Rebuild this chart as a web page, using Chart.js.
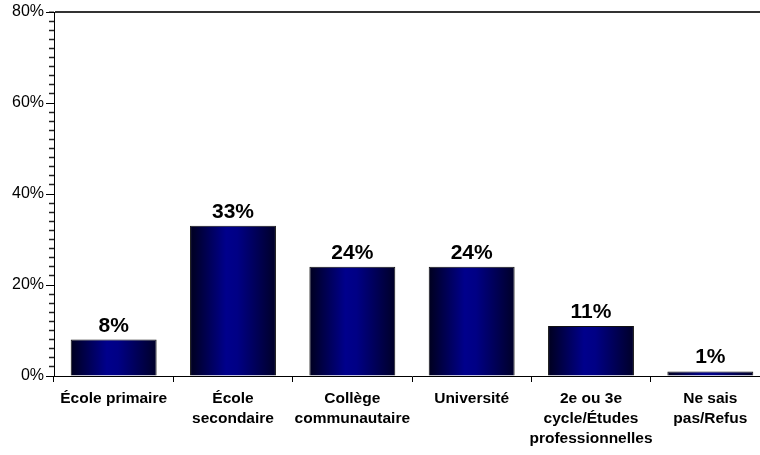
<!DOCTYPE html>
<html>
<head>
<meta charset="utf-8">
<script src="https://cdn.jsdelivr.net/npm/chart.js@4"></script>
<style>
  html, body { margin: 0; padding: 0; background: #fff; overflow: hidden; }
  #wrap { width: 770px; height: 455px; }
</style>
</head>
<body>
<div id="wrap"><canvas id="eduChart" width="770" height="455"></canvas></div>
<script>
// Chart data
const categories = [
    ['École primaire'],
    ['École', 'secondaire'],
    ['Collège', 'communautaire'],
    ['Université'],
    ['2e ou 3e', 'cycle/Études', 'professionnelles'],
    ['Ne sais', 'pas/Refus']
];
const values = [8, 33, 24, 24, 11, 1];
const yTicks = [0, 20, 40, 60, 80];

const FONT = "'Liberation Sans', Arial, sans-serif";
const BAR_PCT = 0.72;

// horizontal navy gradient for each bar, based on the x scale
function barGradient(ctx) {
    const chart = ctx.chart;
    const xs = chart.scales.x;
    if (!chart.chartArea || !xs || ctx.type !== 'data') return '#000080';
    const cx = xs.getPixelForValue(ctx.dataIndex);
    const w = (xs.width / categories.length) * BAR_PCT;
    const g = chart.ctx.createLinearGradient(cx - w / 2, 0, cx + w / 2, 0);
    g.addColorStop(0, '#00001e');
    g.addColorStop(0.42, '#00008c');
    g.addColorStop(0.55, '#000085');
    g.addColorStop(1, '#000028');
    return g;
}

const isMajor = ctx => ctx.tick && yTicks.indexOf(ctx.tick.value) !== -1;

// value labels above bars, and longer major ticks
const extras = {
    id: 'extras',
    afterDatasetsDraw(chart) {
        const c = chart.ctx;
        const meta = chart.getDatasetMeta(0);
        c.save();
        c.fillStyle = '#000';
        c.font = 'bold 21px ' + FONT;
        c.textAlign = 'center';
        c.textBaseline = 'alphabetic';
        meta.data.forEach((bar, i) => {
            c.fillText(values[i] + '%', bar.x, bar.y - 8);
        });

        const ys = chart.scales.y;
        const axisX = chart.chartArea.left;
        c.strokeStyle = '#000';
        c.lineWidth = 1;
        c.beginPath();
        yTicks.forEach(v => {
            const y = Math.round(ys.getPixelForValue(v)) + 0.5;
            c.moveTo(axisX - 8, y);
            c.lineTo(axisX, y);
        });
        c.stroke();
        c.restore();
    }
};

new Chart(document.getElementById('eduChart'), {
    type: 'bar',
    data: {
        labels: categories,
        datasets: [{
            data: values,
            backgroundColor: barGradient,
            borderColor: '#111',
            borderWidth: { top: 1, left: 1, right: 1, bottom: 0 },
            borderSkipped: false,
            categoryPercentage: 1,
            barPercentage: BAR_PCT
        }]
    },
    options: {
        responsive: false,
        animation: false,
        layout: { padding: { top: 12, right: 0, left: 0, bottom: 0 } },
        plugins: {
            legend: { display: false },
            tooltip: { enabled: false }
        },
        scales: {
            x: {
                grid: {
                    display: true,
                    drawOnChartArea: false,
                    offset: true,
                    tickLength: 6,
                    color: '#000'
                },
                border: { color: '#000', width: 1 },
                ticks: {
                    color: '#000',
                    autoSkip: false,
                    maxRotation: 0,
                    padding: 6,
                    font: { family: FONT, size: 15.5, weight: 'bold', lineHeight: 1.32 }
                },
                afterFit(scale) { scale.height = 79; }
            },
            y: {
                min: 0,
                max: 80,
                ticks: {
                    stepSize: 2,
                    autoSkip: false,
                    color: '#000',
                    padding: 5,
                    font: { family: FONT, size: 16 },
                    callback: v => (v % 20 === 0) ? v + '%' : ''
                },
                grid: {
                    color: ctx => (ctx.tick && ctx.tick.value === 80) ? '#333' : 'rgba(0,0,0,0)',
                    lineWidth: ctx => (ctx.tick && ctx.tick.value === 80) ? 2 : 1,
                    tickColor: '#222',
                    tickWidth: ctx => isMajor(ctx) ? 1 : 1.5,
                    tickLength: 5
                },
                border: { color: '#000', width: 1 },
                afterFit(scale) {
                    scale.width = 54;
                    scale.paddingTop = 0;
                    scale.paddingBottom = 0;
                }
            }
        }
    },
    plugins: [extras]
});
</script>
</body>
</html>
